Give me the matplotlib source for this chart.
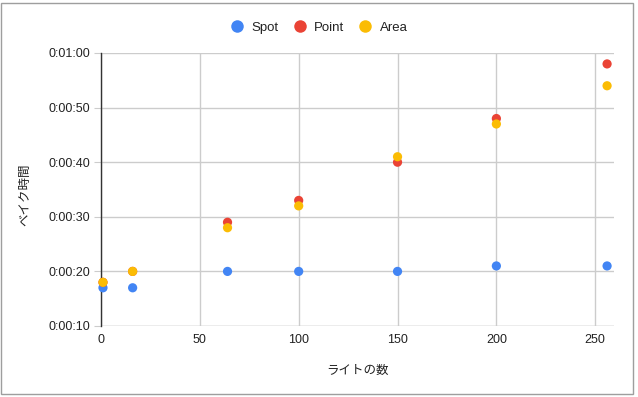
import matplotlib.pyplot as plt
from matplotlib.ticker import FuncFormatter, MultipleLocator
from matplotlib.patches import Rectangle
from matplotlib.lines import Line2D

plt.rcParams['font.family'] = ['Liberation Sans', 'Noto Sans CJK JP', 'DejaVu Sans']

# number of lights
lights = [1, 16, 64, 100, 150, 200, 256]
# bake time in seconds
spot = [17, 17, 20, 20, 20, 21, 21]
point = [18, 20, 29, 33, 40, 48, 58]
area = [18, 20, 28, 32, 41, 47, 54]

series = [("Spot", spot, "#4285F4"), ("Point", point, "#EA4335"), ("Area", area, "#FBBC04")]

def fmt_time(v, pos):
    v = int(round(v))
    return "%d:%02d:%02d" % (v // 3600, (v % 3600) // 60, v % 60)

fig = plt.figure(figsize=(6.38, 3.97), dpi=100)
ax = fig.add_axes([101/638, 1 - 326/397, (614-101)/638, (326-53)/397])

for name, vals, col in series:
    ax.scatter(lights, vals, s=44, color=col, edgecolors='none', zorder=3, clip_on=False)

ax.set_xlim(0, 259.5)
ax.set_ylim(10, 60)
ax.xaxis.set_major_locator(MultipleLocator(50))
ax.yaxis.set_major_locator(MultipleLocator(10))
ax.yaxis.set_major_formatter(FuncFormatter(fmt_time))
ax.grid(True, color="#cccccc", linewidth=1)
ax.set_axisbelow(True)
for s in ["top", "right", "bottom"]:
    ax.spines[s].set_visible(False)
ax.spines["left"].set_color("#333333")
ax.spines["left"].set_linewidth(1)
ax.tick_params(axis="y", length=5, color="#cccccc", labelsize=9, labelcolor="#222222", pad=3)
ax.tick_params(axis="x", length=0, labelsize=9, labelcolor="#222222", pad=6)
ax.axhline(10, color="#cccccc", linewidth=1, zorder=1)

ax.set_xlabel("ライトの数", fontsize=9, color="#222222", labelpad=13,
              family=['Noto Sans CJK JP', 'DejaVu Sans'])
ax.set_ylabel("ベイク時間", fontsize=9, color="#222222",
              family=['Noto Sans CJK JP', 'DejaVu Sans'])
ax.yaxis.set_label_coords(-0.1365, 0.48)

handles = [Line2D([], [], marker='o', linestyle='none', markersize=9, color=c, markeredgewidth=0)
           for _, _, c in series]
fig.legend(handles, [n for n, _, _ in series], loc="center", bbox_to_anchor=(0.5, 1 - 28/397),
           ncol=3, frameon=False, fontsize=9.5, handletextpad=0.6, columnspacing=1.1,
           handlelength=1.0, labelcolor="#222222")

fig.patches.append(Rectangle((0.5/638, 3/397), 632/638, 391/397, transform=fig.transFigure,
                             fill=False, edgecolor="#9e9e9e", linewidth=1))

fig.savefig("out.png", dpi=100)
